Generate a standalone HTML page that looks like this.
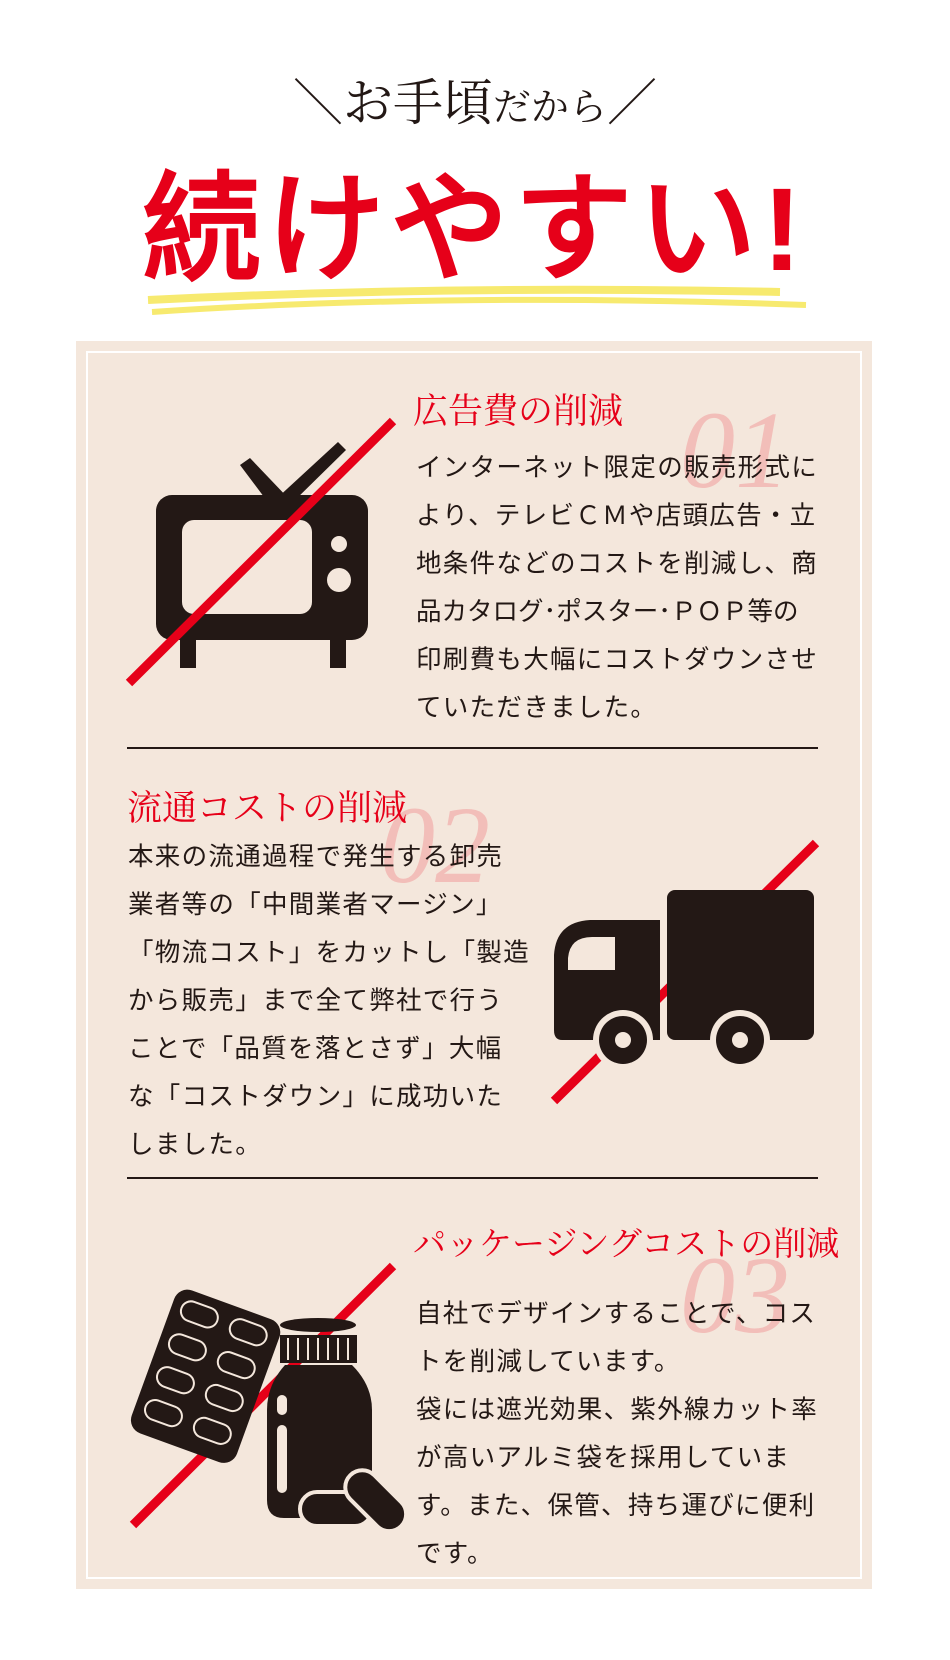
<!DOCTYPE html>
<html><head><meta charset="utf-8"><style>
html,body{margin:0;padding:0;background:#fff;}
body{width:950px;height:1660px;position:relative;overflow:hidden;font-family:"Liberation Sans","Noto Sans CJK JP",sans-serif;}
.abs{position:absolute;}
.sub{left:0;width:950px;top:68px;text-align:center;font-family:"Liberation Serif","Noto Serif CJK SC",serif;font-size:50px;color:#231815;line-height:70px;}
.sub small{font-size:38px;}
.main{left:0;width:950px;top:165px;text-align:center;font-size:118px;color:#e60019;line-height:130px;font-weight:bold;letter-spacing:6px;font-family:"Liberation Sans","WenQuanYi Zen Hei",sans-serif;}
.box{left:76px;top:341px;width:796px;height:1248px;background:#f4e7dc;}
.inner{left:86px;top:351px;width:772px;height:1224px;border:2px solid #fff;}
.t{font-family:"Liberation Serif","Noto Serif CJK SC",serif;color:#e60019;font-size:35px;line-height:44px;white-space:nowrap;}
.p{font-size:25.5px;line-height:48px;color:#231815;letter-spacing:1.3px;white-space:nowrap;}
.num{font-family:"Liberation Serif",serif;font-style:italic;color:#f2b8b3;font-size:110px;line-height:110px;opacity:.85;}
.hr{height:2px;background:#231815;left:127px;width:691px;}
</style></head><body>
<div class="abs sub">＼お手頃<small>だから</small>／</div>
<div class="abs main">続けやすい!</div>
<svg class="abs" style="left:0;top:0" width="950" height="340"><path d="M148 300 Q450 285 780 292" stroke="#f7ea6f" stroke-width="8" fill="none"/><path d="M152 312 Q450 292 806 305" stroke="#f7ea6f" stroke-width="6" fill="none"/></svg>
<div class="abs box"></div>
<div class="abs inner"></div>

<div class="abs num" style="left:680px;top:395px;">01</div>
<div class="abs t" style="left:413px;top:390px;">広告費の削減</div>
<div class="abs p" style="left:416px;top:444px;">インターネット限定の販売形式に<br>より、テレビＣＭや店頭広告・立<br>地条件などのコストを削減し、商<br><span style="letter-spacing:0">品カタログ･ポスター･ＰＯＰ等の</span><br>印刷費も大幅にコストダウンさせ<br>ていただきました。</div>
<svg class="abs" style="left:0;top:0" width="950" height="1660">
 <g fill="#231815">
  <path d="M240 465 L250 458 L290 500 L270 505Z"/><path d="M338 442 L346 450 L290 505 L275 500Z"/>
  <rect x="156" y="495" width="212" height="145" rx="16"/>
  <rect x="180" y="640" width="16" height="28"/><rect x="330" y="640" width="16" height="28"/>
 </g>
 <rect x="182" y="520" width="130" height="94" rx="12" fill="#f4e7dc"/>
 <circle cx="339" cy="544" r="8" fill="#f4e7dc"/><circle cx="339" cy="580" r="12" fill="#f4e7dc"/>
 <line x1="129" y1="683" x2="393" y2="421" stroke="#e60019" stroke-width="9"/>
</svg>
<div class="abs hr" style="top:747px;"></div>

<div class="abs num" style="left:380px;top:790px;">02</div>
<div class="abs t" style="left:127px;top:787px;">流通コストの削減</div>
<div class="abs p" style="left:128px;top:833px;">本来の流通過程で発生する卸売<br>業者等の「中間業者マージン」<br>「物流コスト」をカットし「製造<br>から販売」まで全て弊社で行う<br>ことで「品質を落とさず」大幅<br>な「コストダウン」に成功いた<br>しました。</div>
<svg class="abs" style="left:0;top:0" width="950" height="1660">
 <line x1="554" y1="1101" x2="816" y2="843" stroke="#e60019" stroke-width="9"/>
 <g fill="#231815">
  <rect x="667" y="890" width="147" height="150" rx="8"/>
  <path d="M554 955 Q556 922 590 920 L660 920 L660 1040 L562 1040 Q554 1040 554 1030Z"/>
 </g>
 <path d="M568 958 Q570 937 592 937 L615 937 L615 970 L568 970Z" fill="#f4e7dc"/>
 <circle cx="623" cy="1040" r="30" fill="#f4e7dc"/><circle cx="623" cy="1040" r="24" fill="#231815"/><circle cx="623" cy="1040" r="8" fill="#f4e7dc"/>
 <circle cx="740" cy="1040" r="30" fill="#f4e7dc"/><circle cx="740" cy="1040" r="24" fill="#231815"/><circle cx="740" cy="1040" r="8" fill="#f4e7dc"/>
</svg>
<div class="abs hr" style="top:1177px;"></div>

<div class="abs num" style="left:680px;top:1240px;">03</div>
<div class="abs t" style="left:413px;top:1223px;font-size:33px;">パッケージングコストの削減</div>
<div class="abs p" style="left:416px;top:1290px;">自社でデザインすることで、コス<br>トを削減しています。<br>袋には遮光効果、紫外線カット率<br>が高いアルミ袋を採用していま<br>す。また、保管、持ち運びに便利<br>です。</div>
<svg class="abs" style="left:0;top:0" width="950" height="1660">
 <line x1="133" y1="1525" x2="393" y2="1266" stroke="#e60019" stroke-width="9"/>
 <g transform="rotate(20 205 1375)">
  <rect x="150" y="1300" width="112" height="152" rx="14" fill="#231815"/>
  <g fill="none" stroke="#f4e7dc" stroke-width="2">
   <rect x="160" y="1310" width="38" height="20" rx="10"/><rect x="212" y="1310" width="38" height="20" rx="10"/>
   <rect x="160" y="1345" width="38" height="20" rx="10"/><rect x="212" y="1345" width="38" height="20" rx="10"/>
   <rect x="160" y="1380" width="38" height="20" rx="10"/><rect x="212" y="1380" width="38" height="20" rx="10"/>
   <rect x="160" y="1415" width="38" height="20" rx="10"/><rect x="212" y="1415" width="38" height="20" rx="10"/>
  </g>
 </g>
 <ellipse cx="318" cy="1325" rx="38" ry="7" fill="#231815"/>
 <rect x="280" y="1335" width="77" height="28" fill="#231815"/>
 <g stroke="#f4e7dc" stroke-width="2"><line x1="288" y1="1338" x2="288" y2="1360"/><line x1="298" y1="1338" x2="298" y2="1360"/><line x1="308" y1="1338" x2="308" y2="1360"/><line x1="318" y1="1338" x2="318" y2="1360"/><line x1="328" y1="1338" x2="328" y2="1360"/><line x1="338" y1="1338" x2="338" y2="1360"/><line x1="348" y1="1338" x2="348" y2="1360"/></g>
 <path d="M285 1365 L352 1365 Q372 1385 372 1410 L372 1500 Q372 1518 355 1518 L284 1518 Q267 1518 267 1500 L267 1410 Q267 1385 285 1365Z" fill="#231815"/>
 <rect x="277" y="1395" width="10" height="20" rx="5" fill="#f4e7dc"/><rect x="277" y="1425" width="10" height="68" rx="5" fill="#f4e7dc"/>
 <rect x="300" y="1492" width="72" height="34" rx="17" fill="#231815" stroke="#f4e7dc" stroke-width="4"/>
 <g transform="rotate(45 375 1500)"><rect x="340" y="1483" width="72" height="34" rx="17" fill="#231815" stroke="#f4e7dc" stroke-width="4"/></g>
</svg>
</body></html>
